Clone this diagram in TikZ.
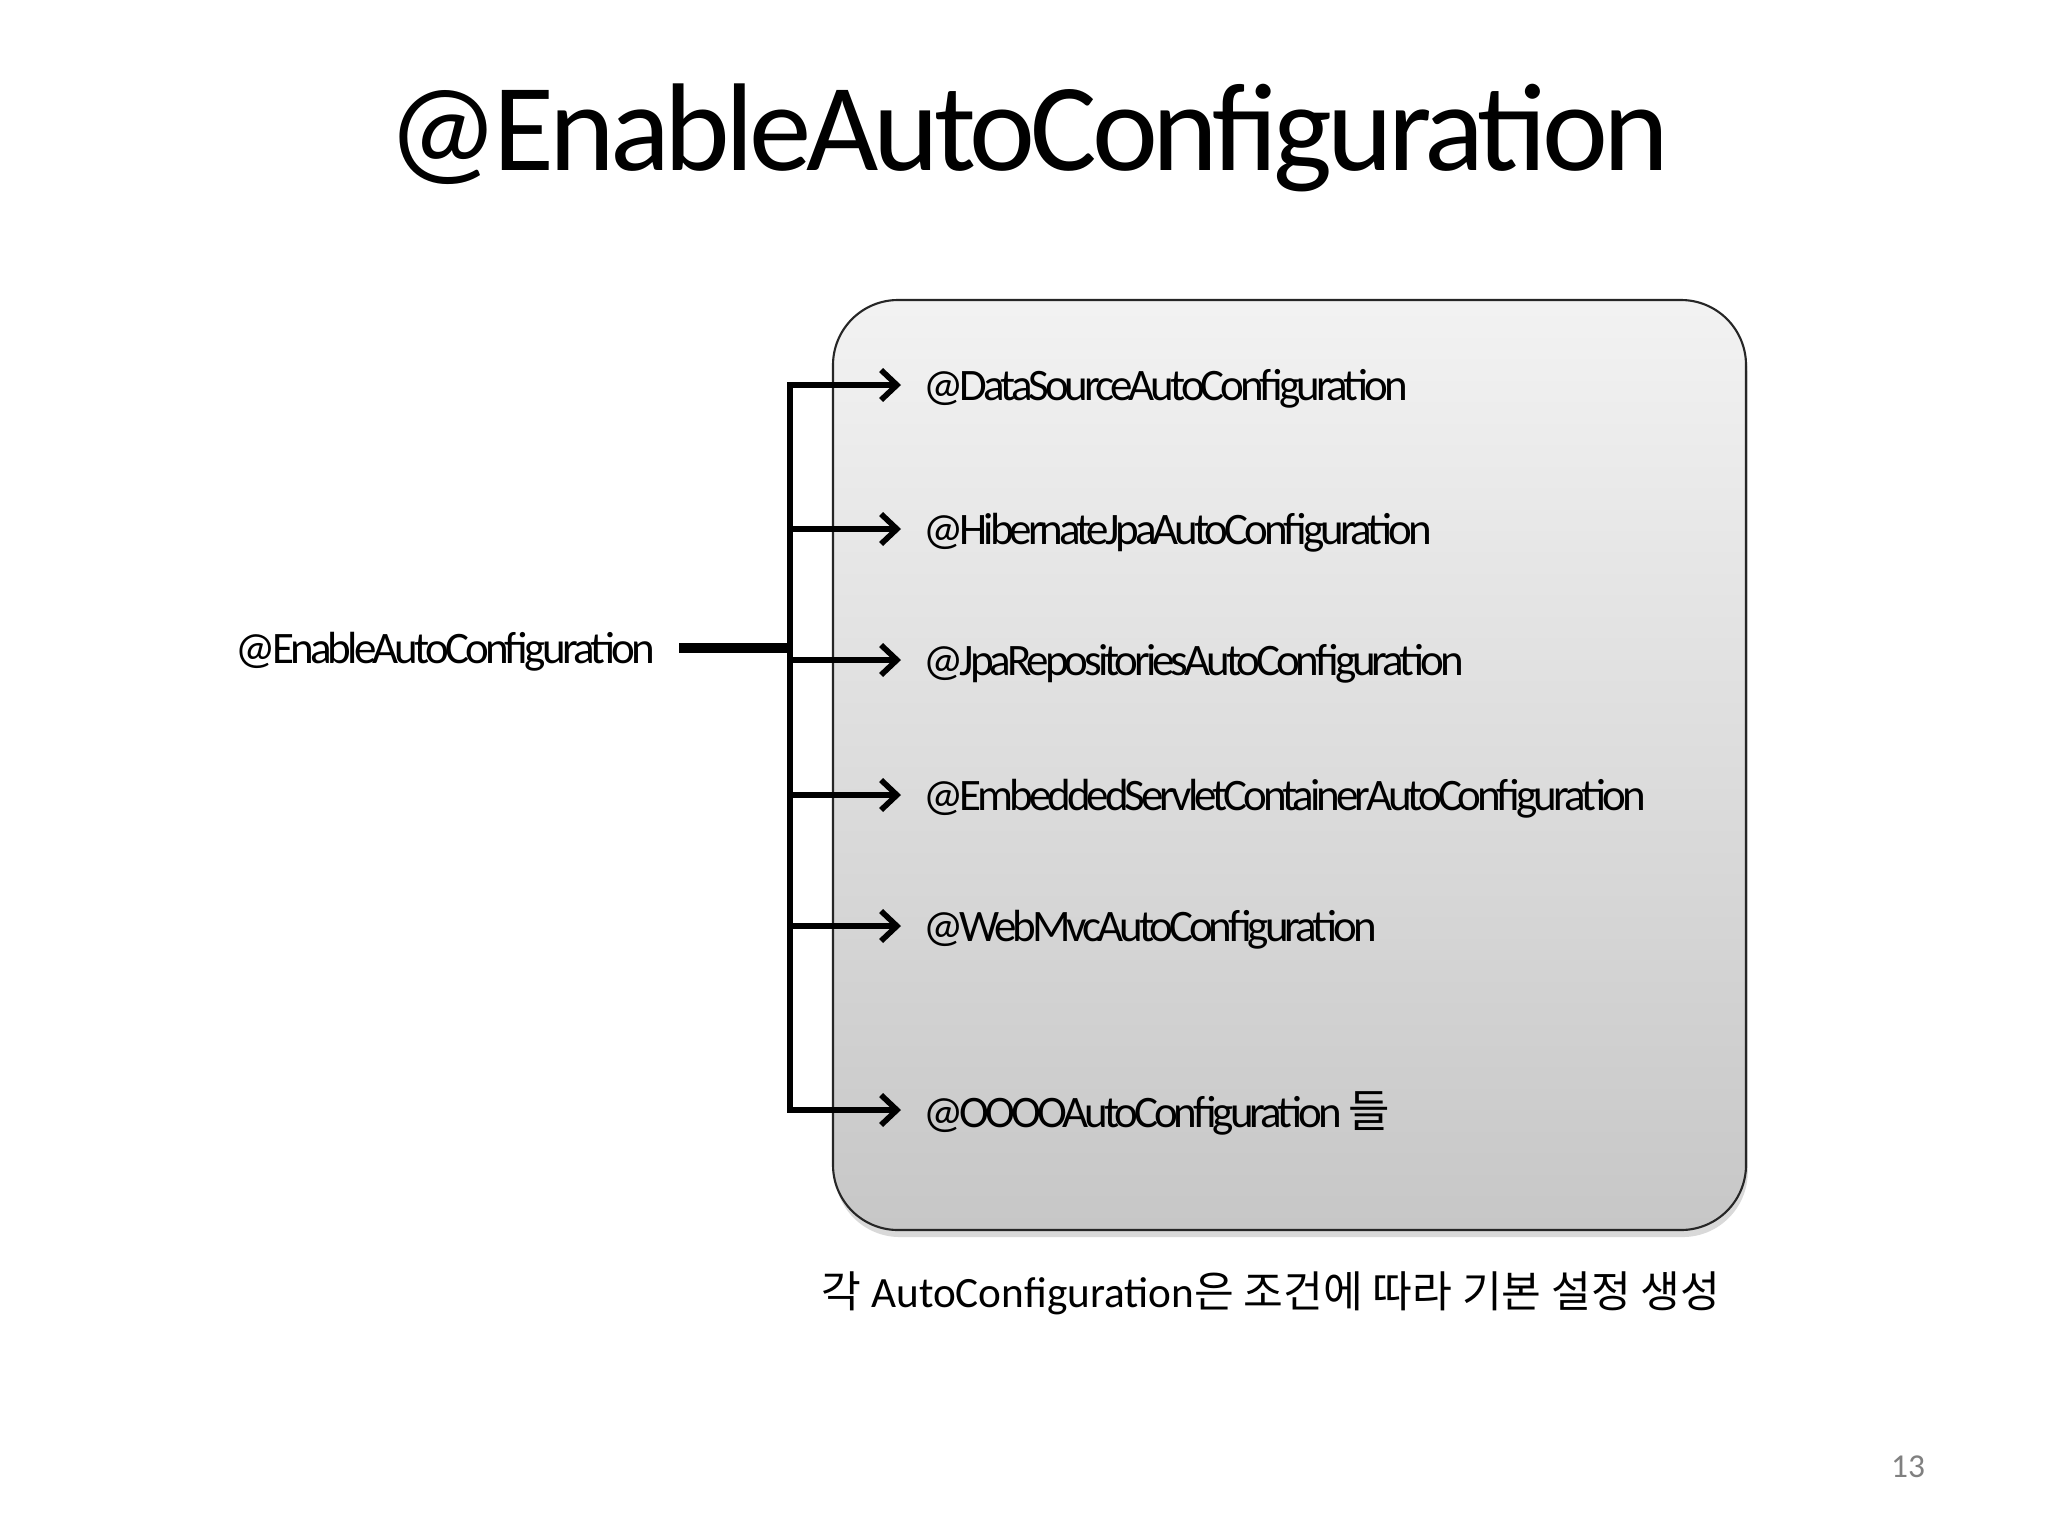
\documentclass[tikz,border=0pt]{standalone}
\usepackage{fontspec}
\setmainfont{Carlito}
\newfontfamily\krfont{Noto Sans CJK KR}
\usetikzlibrary{arrows.meta, shadows}

\tikzset{
  headline/.style={anchor=base, inner sep=0pt, font=\fontsize{35.5}{40}\selectfont\addfontfeatures{LetterSpace=-4}},
  srclabel/.style={anchor=east, inner sep=0pt, text depth=0pt, font=\fontsize{12.8}{15}\selectfont\addfontfeatures{LetterSpace=-8.5}},
  cfglabel/.style={anchor=west, inner xsep=0.22cm, inner ysep=0pt, text depth=0pt, font=\fontsize{12.8}{15}\selectfont\addfontfeatures{LetterSpace=-9}},
  panel/.style={draw=black!85, line width=0.6pt, rounded corners=0.65cm, top color=black!5, bottom color=black!22,
    drop shadow={shadow xshift=0.5pt, shadow yshift=-2pt, opacity=0.3}},
  trunk/.style={line width=2.6pt},
  feed/.style={line width=1.6pt, -{Straight Barb[length=4.5pt, width=8.5pt]}},
}

\begin{document}
\begin{tikzpicture}[x=0.01cm, y=-0.01cm]
\useasboundingbox (0,0) rectangle (2048,1536);
% Title
\node[headline] (title) at (1028,170) {@EnableAutoConfiguration};
% Gray panel holding the configurations
\path[panel] (833,300) rectangle (1746,1230);
% Source annotation on the left
\node[srclabel] (src) at (656,648) {@EnableAutoConfiguration};
% Configurations inside the panel
\node[cfglabel] (ds) at (901,385) {@DataSourceAutoConfiguration};
\node[cfglabel] (hj) at (901,529) {@HibernateJpaAutoConfiguration};
\node[cfglabel] (jr) at (901,660) {@JpaRepositoriesAutoConfiguration};
\node[cfglabel] (es) at (901,795) {@EmbeddedServletContainerAutoConfiguration};
\node[cfglabel] (wm) at (901,926) {@WebMvcAutoConfiguration};
\node[cfglabel] (oo) at (901,1110) {@OOOOAutoConfiguration {\krfont 들}};
% Vertical bus
\coordinate (busTop) at (790,385);
\coordinate (busBot) at (790,1110);
% Feed from the source into the bus
\draw[trunk] ([xshift=0.23cm]src.east) -- (src.east -| busTop);
% Branches to each configuration
\draw[feed] (busBot) -- (busTop) -- (ds.west);
\draw[feed] (busTop) -- (busBot) -- (oo.west);
\draw[feed] (hj.west -| busTop) -- (hj.west);
\draw[feed] (jr.west -| busTop) -- (jr.west);
\draw[feed] (es.west -| busTop) -- (es.west);
\draw[feed] (wm.west -| busTop) -- (wm.west);
% Caption below the panel
\node[font=\fontsize{12.3}{15}\selectfont] (note) at (1271,1293) {{\krfont 각} AutoConfiguration{\krfont 은 조건에 따라 기본 설정 생성}};
% Page number
\node[text=black!50, font=\fontsize{9.5}{11}\selectfont] (page) at (1908,1467) {13};
\end{tikzpicture}
\end{document}
